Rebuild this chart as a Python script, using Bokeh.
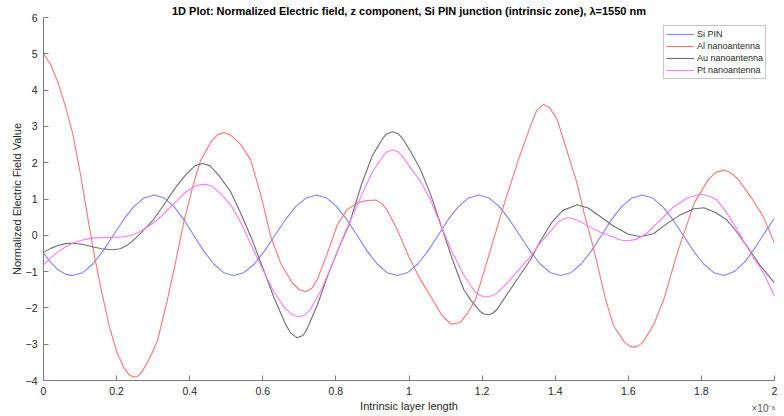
from bokeh.plotting import figure
from bokeh.models import Range1d, FixedTicker, Legend, LinearAxis
from bokeh.embed import file_html
from bokeh.resources import INLINE

# ---------------- data (x in micrometres, i.e. x10^-6 m) ----------------
si_x = [0, 0.02, 0.04, 0.06, 0.079,
        0.107, 0.135, 0.163, 0.191, 0.219, 0.247, 0.275, 0.303,
        0.330, 0.357, 0.384, 0.411, 0.438, 0.466, 0.493, 0.520,
        0.548, 0.577, 0.605, 0.633, 0.662, 0.690, 0.719, 0.747,
        0.775, 0.802, 0.830, 0.858, 0.885, 0.913, 0.940, 0.968,
        0.996, 1.024, 1.052, 1.080, 1.107, 1.135, 1.163, 1.191,
        1.219, 1.247, 1.275, 1.303, 1.331, 1.359, 1.387, 1.415,
        1.443, 1.471, 1.499, 1.527, 1.554, 1.582, 1.610, 1.638,
        1.666, 1.694, 1.722, 1.750, 1.778, 1.806, 1.834, 1.862,
        1.89, 1.92, 1.95, 1.975, 2.0]
si_y = [-0.49, -0.75, -0.95, -1.07, -1.11,
        -1.03, -0.79, -0.43, 0.0, 0.43, 0.79, 1.03, 1.11,
        1.03, 0.79, 0.43, 0.0, -0.43, -0.79, -1.03, -1.11,
        -1.03, -0.79, -0.43, 0.0, 0.43, 0.79, 1.03, 1.11,
        1.03, 0.79, 0.43, 0.0, -0.43, -0.79, -1.03, -1.11,
        -1.03, -0.79, -0.43, 0.0, 0.43, 0.79, 1.03, 1.11,
        1.03, 0.79, 0.43, 0.0, -0.43, -0.79, -1.03, -1.11,
        -1.03, -0.79, -0.43, 0.0, 0.43, 0.79, 1.03, 1.11,
        1.03, 0.79, 0.43, 0.0, -0.43, -0.79, -1.03, -1.11,
        -1.0, -0.72, -0.3, 0.1, 0.47]

al_x = [0, 0.02, 0.04, 0.06, 0.08, 0.10, 0.12, 0.14, 0.16, 0.18, 0.20, 0.22, 0.235, 0.248,
        0.26, 0.27, 0.29, 0.312, 0.339, 0.357, 0.385, 0.41, 0.43, 0.46, 0.478, 0.494,
        0.512, 0.54, 0.567, 0.595, 0.622, 0.65, 0.68, 0.70, 0.717, 0.735,
        0.75, 0.78, 0.804, 0.83, 0.86, 0.885, 0.909, 0.925, 0.94, 0.968,
        1.0, 1.03, 1.059, 1.09, 1.115, 1.14, 1.16, 1.182,
        1.22, 1.26, 1.30, 1.332, 1.35, 1.368, 1.385, 1.406,
        1.43, 1.46, 1.479, 1.506, 1.538, 1.56, 1.59, 1.603, 1.615, 1.628,
        1.64, 1.67, 1.697, 1.734, 1.78, 1.82, 1.84, 1.862, 1.88, 1.90, 1.935, 1.97, 2.0]
al_y = [5.0, 4.7, 4.2, 3.55, 2.8, 1.75, 0.55, -0.6, -1.6, -2.5, -3.2, -3.65, -3.85, -3.91,
        -3.87, -3.75, -3.4, -2.9, -1.77, -0.95, 0.42, 1.4, 2.07, 2.6, 2.78, 2.83,
        2.76, 2.5, 2.07, 1.1, -0.04, -0.8, -1.3, -1.5, -1.55, -1.45,
        -1.2, -0.4, 0.29, 0.7, 0.9, 0.96, 0.97, 0.88, 0.7, 0.15,
        -0.6, -1.2, -1.68, -2.2, -2.45, -2.4, -2.15, -1.77,
        -0.5, 0.85, 2.1, 3.0, 3.45, 3.6, 3.52, 3.17,
        2.4, 1.43, 0.61, -0.40, -1.77, -2.5, -2.95, -3.05, -3.08, -3.04,
        -2.95, -2.45, -1.77, -0.49, 0.88, 1.55, 1.74, 1.80, 1.72, 1.55, 1.06, 0.5, -0.22]

au_x = [0, 0.02, 0.04, 0.06, 0.079, 0.10, 0.12, 0.14, 0.16, 0.189, 0.21, 0.23, 0.25,
        0.27, 0.30, 0.33, 0.36, 0.39, 0.415, 0.435, 0.455, 0.48, 0.512,
        0.54, 0.57, 0.60, 0.63, 0.66, 0.675, 0.693, 0.71, 0.72, 0.75, 0.78, 0.81, 0.836,
        0.87, 0.90, 0.93, 0.94, 0.955, 0.97, 0.98, 1.005, 1.032, 1.06, 1.09, 1.12, 1.15,
        1.17, 1.195, 1.205, 1.218, 1.23, 1.24, 1.27, 1.30, 1.332, 1.36, 1.39, 1.42, 1.46,
        1.49, 1.524, 1.56, 1.60, 1.634, 1.67, 1.70, 1.74, 1.78, 1.807,
        1.84, 1.87, 1.90, 1.93, 1.96, 2.0]
au_y = [-0.47, -0.36, -0.28, -0.23, -0.22, -0.24, -0.28, -0.33, -0.37, -0.40, -0.37, -0.27, -0.10,
        0.10, 0.42, 0.85, 1.30, 1.68, 1.92, 1.98, 1.92, 1.65, 1.2,
        0.6, -0.1, -0.9, -1.7, -2.4, -2.68, -2.82, -2.76, -2.6, -1.9, -1.05, -0.3, 0.29,
        1.4, 2.2, 2.7, 2.8, 2.85, 2.8, 2.7, 2.3, 1.8, 1.1, 0.2, -0.7, -1.5,
        -1.8, -2.1, -2.17, -2.19, -2.14, -2.05, -1.6, -1.15, -0.68, -0.15, 0.35, 0.68, 0.84,
        0.75, 0.51, 0.25, 0.03, -0.04, 0.05, 0.28, 0.55, 0.73, 0.76,
        0.62, 0.42, 0.05, -0.38, -0.82, -1.32]

pt_x = [0, 0.02, 0.04, 0.06, 0.084, 0.11, 0.14, 0.17, 0.20, 0.22, 0.24, 0.26, 0.28,
        0.30, 0.33, 0.36, 0.39, 0.415, 0.439, 0.46, 0.485, 0.512,
        0.54, 0.57, 0.60, 0.63, 0.66, 0.68, 0.698, 0.715, 0.73, 0.76, 0.79, 0.82,
        0.87, 0.90, 0.93, 0.94, 0.955, 0.97, 0.98, 1.005, 1.032, 1.06, 1.09, 1.12,
        1.15, 1.18, 1.195, 1.21, 1.225, 1.24, 1.27, 1.30, 1.333, 1.36, 1.39, 1.41, 1.433,
        1.46, 1.49, 1.52, 1.55, 1.579, 1.597, 1.62, 1.65, 1.688, 1.72, 1.76,
        1.798, 1.825, 1.843, 1.87, 1.90, 1.935, 1.97, 2.0]
pt_y = [-0.81, -0.62, -0.45, -0.32, -0.2, -0.12, -0.07, -0.06, -0.05, -0.04, 0.0, 0.08, 0.2,
        0.33, 0.6, 0.9, 1.2, 1.36, 1.41, 1.36, 1.15, 0.84,
        0.35, -0.3, -0.95, -1.55, -2.0, -2.18, -2.25, -2.2, -2.05, -1.5, -0.8, -0.05,
        1.1, 1.75, 2.2, 2.3, 2.35, 2.3, 2.2, 1.85, 1.48, 0.95, 0.2, -0.5,
        -1.1, -1.55, -1.66, -1.70, -1.67, -1.6, -1.3, -0.95, -0.58, -0.2, 0.15, 0.38, 0.49,
        0.42, 0.26, 0.1, -0.02, -0.13, -0.15, -0.12, 0.05, 0.42, 0.75, 1.02,
        1.14, 1.06, 0.97, 0.61, 0.12, -0.49, -1.04, -1.68]

series_names = ["Si PIN", "Al nanoantenna", "Au nanoantenna", "Pt nanoantenna"]
series_colors = ["#8080ff", "#ff7373", "#6e6e6e", "#ff78ff"]

x_ticks = [0, 0.2, 0.4, 0.6, 0.8, 1, 1.2, 1.4, 1.6, 1.8, 2]
x_tick_labels = ["0", "0.2", "0.4", "0.6", "0.8", "1", "1.2", "1.4", "1.6", "1.8", "2"]
y_ticks = [-4, -3, -2, -1, 0, 1, 2, 3, 4, 5, 6]
exponent_pos = 1.97
exponent_text = "\u00d710\u207b\u2076"

title_text = "1D Plot: Normalized Electric field, z component, Si PIN junction (intrinsic zone), \u03bb=1550 nm"
xlabel_text = "Intrinsic layer length"
ylabel_text = "Normalized Electric Field Value"

FONT = "Liberation Sans"
TXT = "#262626"
AXC = "#7a7a7a"

p = figure(width=784, height=416, output_backend="svg", toolbar_location=None,
           x_range=Range1d(0, 2), y_range=Range1d(-4, 6),
           min_border_left=43, min_border_right=10, min_border_top=17, min_border_bottom=35)
p.outline_line_color = None
p.xgrid.visible = False
p.ygrid.visible = False
p.background_fill_color = "white"
p.border_fill_color = "white"

p.title.text = title_text
p.title.align = "center"
p.title.text_font = FONT
p.title.text_font_size = "11px"
p.title.text_font_style = "bold"
p.title.text_color = "black"
p.title.standoff = 1

for ax in (p.xaxis[0], p.yaxis[0]):
    ax.axis_line_color = AXC
    ax.major_tick_line_color = AXC
    ax.major_tick_in = 5
    ax.major_tick_out = 0
    ax.minor_tick_line_color = None
    ax.major_label_text_font = FONT
    ax.major_label_text_font_size = "10.5px"
    ax.major_label_text_color = TXT
    ax.axis_label_text_font = FONT
    ax.axis_label_text_font_size = "11px"
    ax.axis_label_text_font_style = "normal"
    ax.axis_label_text_color = TXT

p.xaxis.ticker = FixedTicker(ticks=x_ticks)
p.xaxis.major_label_overrides = {t: l for t, l in zip(x_ticks, x_tick_labels)}
p.xaxis.major_label_standoff = 6
p.xaxis.axis_label = xlabel_text
p.xaxis.axis_label_standoff = 2
p.yaxis.ticker = FixedTicker(ticks=y_ticks)
p.yaxis.major_label_standoff = 6
p.yaxis.axis_label = ylabel_text
p.yaxis.axis_label_standoff = 0

# exponent marker of the x axis (x10^-6), drawn as a label-only axis
exp_axis = LinearAxis(ticker=FixedTicker(ticks=[exponent_pos]),
                      major_label_overrides={exponent_pos: exponent_text},
                      axis_line_color=None, major_tick_line_color=None,
                      minor_tick_line_color=None, major_tick_in=0, major_tick_out=0,
                      major_label_standoff=-12, major_label_text_font=FONT,
                      major_label_text_font_size="10px", major_label_text_color="#555555")
p.add_layout(exp_axis, "below")

xs_all = [si_x, al_x, au_x, pt_x]
ys_all = [si_y, al_y, au_y, pt_y]
items = []
for xs, ys, name, col in zip(xs_all, ys_all, series_names, series_colors):
    r = p.line(xs, ys, line_color=col, line_width=1.1)
    items.append((name, [r]))

legend = Legend(items=items, location="top_right")
legend.margin = 8
legend.padding = 2
legend.spacing = 0
legend.label_height = 12
legend.glyph_height = 12
legend.glyph_width = 28
legend.label_standoff = 3
legend.label_text_font = FONT
legend.label_text_font_size = "9px"
legend.label_text_color = TXT
legend.border_line_color = "#8a8a8a"
legend.border_line_width = 1
legend.background_fill_alpha = 1.0
p.add_layout(legend, "center")

open("out.html", "w").write(file_html(p, INLINE))
